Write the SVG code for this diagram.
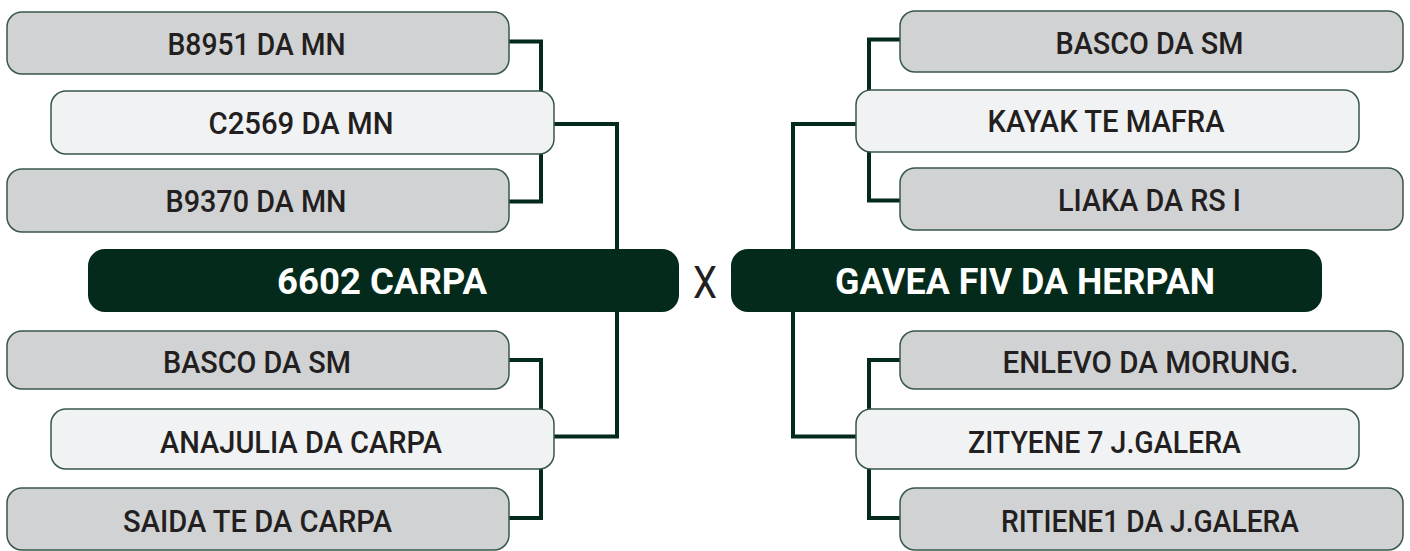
<svg xmlns="http://www.w3.org/2000/svg" width="1410" height="551" viewBox="0 0 1410 551">
<style>
.bg{fill:#ffffff}
.conn{fill:none;stroke:#032a1a;stroke-width:4;stroke-linejoin:miter}
.gray{fill:#d1d2d4;stroke:#38574a;stroke-width:1.5}
.light{fill:#f1f2f4;stroke:#38574a;stroke-width:1.5}
.main{fill:#032a1a}
.t{font-family:Roboto,"Liberation Sans",Arial,sans-serif;font-size:31.5px;font-weight:500;fill:#231f20;text-anchor:middle}
.tm{font-family:Roboto,"Liberation Sans",Arial,sans-serif;font-size:36.5px;font-weight:700;fill:#ffffff;text-anchor:middle}
.x{font-family:Roboto,"Liberation Sans",Arial,sans-serif;font-size:45px;font-weight:400;fill:#231f20;text-anchor:middle}
</style>
<rect class="bg" x="0" y="0" width="1410" height="551"/>
<g id="connectors">
<path class="conn" d="M509,41.5 H541 V201.5 H509"/>
<path class="conn" d="M554,124 H617 V436.5 H554"/>
<path class="conn" d="M509,360 H541 V518 H509"/>
<path class="conn" d="M900,39.5 H869 V200.5 H900"/>
<path class="conn" d="M856,124 H793 V436.5 H856"/>
<path class="conn" d="M900,360 H869 V518 H900"/>
</g>
<g id="l1"><rect class="gray" x="7" y="12" width="502" height="62" rx="15"/><text class="t" x="256.5" y="55" textLength="178" lengthAdjust="spacingAndGlyphs">B8951 DA MN</text></g>
<g id="l2"><rect class="light" x="51" y="91" width="503" height="63" rx="15"/><text class="t" x="301" y="134" textLength="185" lengthAdjust="spacingAndGlyphs">C2569 DA MN</text></g>
<g id="l3"><rect class="gray" x="7" y="169" width="502" height="63" rx="15"/><text class="t" x="256" y="212" textLength="181" lengthAdjust="spacingAndGlyphs">B9370 DA MN</text></g>
<g id="lmain"><rect class="main" x="88" y="249" width="591" height="63" rx="17"/><text class="tm" x="382" y="294" textLength="210" lengthAdjust="spacingAndGlyphs">6602 CARPA</text></g>
<g id="l4"><rect class="gray" x="7" y="331" width="502" height="58" rx="15"/><text class="t" x="257" y="373" textLength="188" lengthAdjust="spacingAndGlyphs">BASCO DA SM</text></g>
<g id="l5"><rect class="light" x="51" y="409" width="503" height="60" rx="15"/><text class="t" x="301" y="453" textLength="282" lengthAdjust="spacingAndGlyphs">ANAJULIA DA CARPA</text></g>
<g id="l6"><rect class="gray" x="7" y="488" width="502" height="62" rx="15"/><text class="t" x="257.5" y="532" textLength="269" lengthAdjust="spacingAndGlyphs">SAIDA TE DA CARPA</text></g>
<g id="vs"><text class="x" x="705" y="298" textLength="24" lengthAdjust="spacingAndGlyphs">X</text></g>
<g id="r1"><rect class="gray" x="900" y="11" width="503" height="61" rx="15"/><text class="t" x="1149.5" y="54" textLength="188" lengthAdjust="spacingAndGlyphs">BASCO DA SM</text></g>
<g id="r2"><rect class="light" x="856" y="90" width="503" height="62" rx="15"/><text class="t" x="1106" y="132" textLength="237" lengthAdjust="spacingAndGlyphs">KAYAK TE MAFRA</text></g>
<g id="r3"><rect class="gray" x="900" y="168" width="503" height="62" rx="15"/><text class="t" x="1149.5" y="211" textLength="183" lengthAdjust="spacingAndGlyphs">LIAKA DA RS I</text></g>
<g id="rmain"><rect class="main" x="731" y="249" width="591" height="63" rx="17"/><text class="tm" x="1025" y="294" textLength="380" lengthAdjust="spacingAndGlyphs">GAVEA FIV DA HERPAN</text></g>
<g id="r4"><rect class="gray" x="900" y="331" width="503" height="58" rx="15"/><text class="t" x="1150.5" y="373" textLength="296" lengthAdjust="spacingAndGlyphs">ENLEVO DA MORUNG.</text></g>
<g id="r5"><rect class="light" x="856" y="409" width="503" height="60" rx="15"/><text class="t" x="1104.5" y="453" textLength="273" lengthAdjust="spacingAndGlyphs">ZITYENE 7 J.GALERA</text></g>
<g id="r6"><rect class="gray" x="900" y="488" width="503" height="62" rx="15"/><text class="t" x="1150" y="532" textLength="298" lengthAdjust="spacingAndGlyphs">RITIENE1 DA J.GALERA</text></g>
</svg>
